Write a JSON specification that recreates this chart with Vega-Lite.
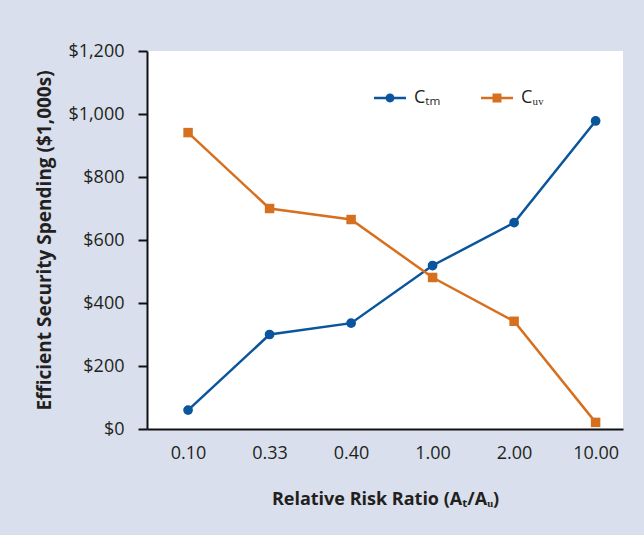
{
  "$schema": "https://vega.github.io/schema/vega-lite/v6.json",
  "width": 476,
  "height": 378,
  "autosize": {"type": "none"},
  "padding": {"left": 147, "top": 51, "right": 21, "bottom": 106},
  "background": "#d9dfec",
  "config": {
    "font": "Open Sans",
    "view": {"fill": "white", "stroke": null},
    "axis": {
      "labelFont": "Open Sans",
      "labelFontSize": 18,
      "labelColor": "#231f20",
      "titleFont": "Open Sans",
      "titleFontWeight": "bold",
      "titleColor": "#231f20",
      "domainColor": "#111111",
      "domainWidth": 2,
      "tickColor": "#111111",
      "tickWidth": 2,
      "grid": false
    },
    "legend": {
      "labelFont": "Open Sans",
      "labelFontSize": 18,
      "labelColor": "#231f20"
    }
  },
  "data": {
    "values": [
      {"ratio": "0.10", "series": "Cₜₘ", "spending": 60},
      {"ratio": "0.33", "series": "Cₜₘ", "spending": 300},
      {"ratio": "0.40", "series": "Cₜₘ", "spending": 336},
      {"ratio": "1.00", "series": "Cₜₘ", "spending": 519},
      {"ratio": "2.00", "series": "Cₜₘ", "spending": 655},
      {"ratio": "10.00", "series": "Cₜₘ", "spending": 978},
      {"ratio": "0.10", "series": "Cᵤᵥ", "spending": 941},
      {"ratio": "0.33", "series": "Cᵤᵥ", "spending": 700},
      {"ratio": "0.40", "series": "Cᵤᵥ", "spending": 665},
      {"ratio": "1.00", "series": "Cᵤᵥ", "spending": 481},
      {"ratio": "2.00", "series": "Cᵤᵥ", "spending": 342},
      {"ratio": "10.00", "series": "Cᵤᵥ", "spending": 21}
    ]
  },
  "encoding": {
    "x": {
      "field": "ratio",
      "type": "ordinal",
      "sort": null,
      "scale": {"type": "point", "padding": 0.42, "align": 0.6},
      "axis": {
        "title": "Relative Risk Ratio (Aₜ/Aᵤ)",
        "titleFontSize": 18,
        "labelAngle": 0,
        "ticks": false,
        "labelPadding": 15,
        "titlePadding": 28
      }
    },
    "y": {
      "field": "spending",
      "type": "quantitative",
      "scale": {"domain": [0, 1200], "nice": false},
      "axis": {
        "title": "Efficient Security Spending ($1,000s)",
        "titleFontSize": 19,
        "values": [0, 200, 400, 600, 800, 1000, 1200],
        "format": "$,d",
        "tickSize": 9,
        "labelPadding": 14,
        "titlePadding": 13
      }
    }
  },
  "layer": [
    {
      "transform": [{"filter": {"field": "series", "equal": "Cₜₘ"}}],
      "mark": {"type": "line", "strokeWidth": 2.5, "color": "#0a559b"}
    },
    {
      "transform": [{"filter": {"field": "series", "equal": "Cᵤᵥ"}}],
      "mark": {"type": "line", "strokeWidth": 2.5, "color": "#d6701f"}
    },
    {
      "transform": [{"filter": {"field": "series", "equal": "Cₜₘ"}}],
      "mark": {"type": "point", "shape": "circle", "filled": true, "opacity": 1, "size": 95, "color": "#0a559b"}
    },
    {
      "transform": [{"filter": {"field": "series", "equal": "Cᵤᵥ"}}],
      "mark": {"type": "point", "shape": "square", "filled": true, "opacity": 1, "size": 90, "color": "#d6701f"}
    },
    {
      "mark": {"type": "point", "filled": true, "opacity": 0},
      "encoding": {
        "color": {
          "field": "series",
          "type": "nominal",
          "scale": {"domain": ["Cₜₘ", "Cᵤᵥ"], "range": ["#0a559b", "#d6701f"]},
          "legend": {
            "title": null,
            "orient": "none",
            "direction": "horizontal",
            "legendX": 227,
            "legendY": 31,
            "symbolSize": 1024,
            "symbolOpacity": 1,
            "symbolStrokeWidth": 0,
            "labelOffset": 8,
            "columnPadding": 40
          }
        },
        "shape": {
          "field": "series",
          "type": "nominal",
          "scale": {
            "domain": ["Cₜₘ", "Cᵤᵥ"],
            "range": [
              "M-1,-0.08H-0.25V0.08H-1Z M0.25,-0.08H1V0.08H0.25Z M-0.28,0A0.28,0.28 0 1,1 0.28,0A0.28,0.28 0 1,1 -0.28,0Z",
              "M-1,-0.08H-0.28V0.08H-1Z M0.28,-0.08H1V0.08H0.28Z M-0.28,-0.28H0.28V0.28H-0.28Z"
            ]
          },
          "legend": {
            "title": null,
            "orient": "none",
            "direction": "horizontal",
            "legendX": 227,
            "legendY": 31,
            "symbolSize": 1024,
            "symbolOpacity": 1,
            "symbolStrokeWidth": 0,
            "labelOffset": 8,
            "columnPadding": 40
          }
        }
      }
    }
  ]
}
